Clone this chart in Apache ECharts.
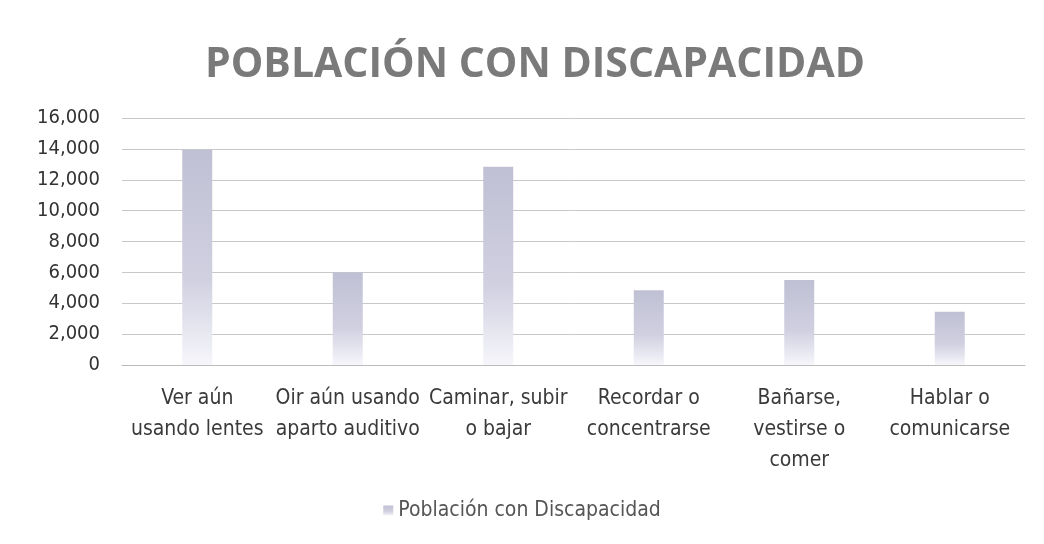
<!DOCTYPE html>
<html>
<head>
<meta charset="utf-8">
<script src="https://cdn.jsdelivr.net/npm/echarts@6/dist/echarts.min.js"></script>
<style>
html, body { margin: 0; padding: 0; background: #fff; }
#chart { width: 1044px; height: 544px; }
</style>
</head>
<body>
<div id="chart"></div>
<script>
var categories = [
    'Ver aún\nusando lentes',
    'Oir aún usando\naparto auditivo',
    'Caminar, subir\no bajar',
    'Recordar o\nconcentrarse',
    'Bañarse,\nvestirse o\ncomer',
    'Hablar o\ncomunicarse'
];
var values = [13950, 6000, 12850, 4850, 5500, 3450];
var seriesName = 'Población con Discapacidad';

var font = '"Liberation Sans Narrow", "DejaVu Sans Condensed", "Open Sans", sans-serif';

var chart = echarts.init(document.getElementById('chart'));
chart.setOption({
    backgroundColor: '#fff',
    title: {
        text: 'POBLACIÓN CON DISCAPACIDAD',
        left: 530,
        textAlign: 'center',
        top: 40,
        textStyle: {
            fontFamily: '"Open Sans", sans-serif',
            fontSize: 41,
            fontWeight: 'bold',
            color: '#7a7a7a'
        }
    },
    legend: {
        data: [seriesName],
        bottom: 18,
        left: 'center',
        icon: 'rect',
        itemWidth: 10,
        itemHeight: 10,
        itemGap: 10,
        textStyle: { fontFamily: font, fontSize: 21, color: '#555' }
    },
    grid: { left: 122, right: 19, top: 118, bottom: 179 },
    xAxis: {
        type: 'category',
        data: categories,
        axisLine: { lineStyle: { color: '#bbb' } },
        axisTick: { show: false },
        axisLabel: {
            interval: 0,
            margin: 18,
            lineHeight: 31,
            fontFamily: font,
            fontSize: 21,
            color: '#3a3a3a'
        }
    },
    yAxis: {
        type: 'value',
        min: 0,
        max: 16000,
        interval: 2000,
        axisLine: { show: false },
        axisTick: { show: false },
        splitLine: { lineStyle: { color: '#c8c8c8' } },
        axisLabel: {
            margin: 22,
            fontFamily: font,
            fontSize: 20,
            color: '#333',
            formatter: function (v) { return v.toLocaleString('en-US'); }
        }
    },
    series: [{
        name: seriesName,
        type: 'bar',
        data: values,
        barWidth: 30,
        itemStyle: {
            color: new echarts.graphic.LinearGradient(0, 0, 0, 1, [
                { offset: 0, color: '#c0c0d4' },
                { offset: 0.6, color: '#d0d0e1' },
                { offset: 1, color: '#f6f6fb' }
            ])
        }
    }],
    color: ['#c8c8da']
});
</script>
</body>
</html>
